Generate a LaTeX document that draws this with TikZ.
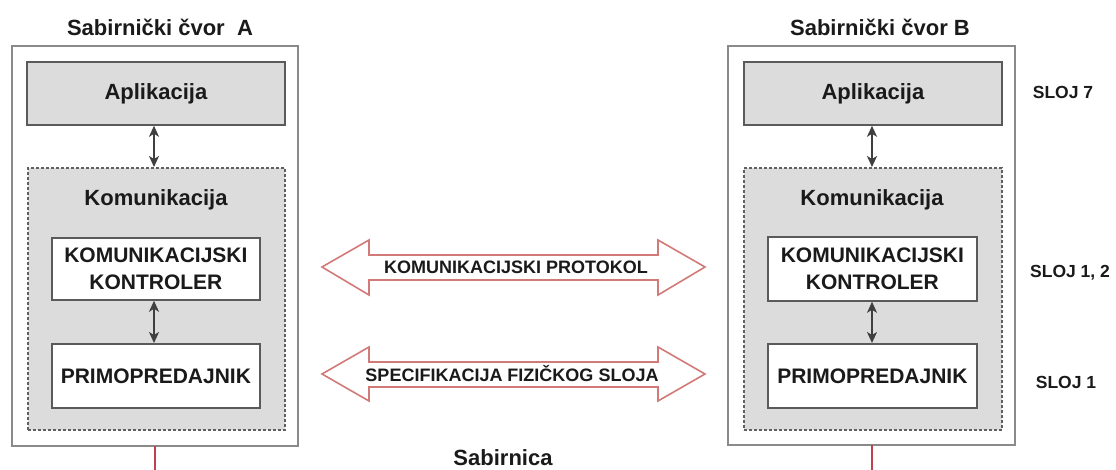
\documentclass[tikz,border=0pt]{standalone}
\usepackage{fontspec}
\setmainfont{Liberation Sans}
\usetikzlibrary{arrows.meta}
\definecolor{boxfill}{HTML}{DCDCDC}
\definecolor{boxline}{HTML}{5A5A5A}
\definecolor{outerline}{HTML}{8A8A8A}
\definecolor{dashline}{HTML}{606060}
\definecolor{arrline}{HTML}{D27A78}
\definecolor{busline}{HTML}{C0404F}
\definecolor{txt}{HTML}{1A1A1A}
\tikzset{
  outerbox/.style={draw=outerline, line width=1.5pt, fill=white},
  appbox/.style={draw=boxline, line width=1.8pt, fill=boxfill},
  combox/.style={draw=dashline, line width=1.6pt, dash pattern=on 3pt off 2pt, fill=boxfill},
  whitebox/.style={draw=boxline, line width=1.8pt, fill=white},
  lbl/.style={text=txt, font=\bfseries\fontsize{22}{26}\selectfont, inner sep=0pt},
  caps/.style={text=txt, font=\bfseries\fontsize{21}{27}\selectfont, inner sep=0pt, align=center},
  arrtxt/.style={text=txt, font=\bfseries\fontsize{18}{22}\selectfont, inner sep=0pt},
  layer/.style={text=txt, font=\bfseries\fontsize{17.5}{21}\selectfont, inner sep=0pt},
  link/.style={draw=boxline!70!black, line width=1.5pt, {Stealth[length=11pt,width=10pt,inset=3pt]}-{Stealth[length=11pt,width=10pt,inset=3pt]}},
  bigarrow/.style={draw=arrline, line width=1.6pt, fill=white, line join=miter},
  bus/.style={draw=busline, line width=1.6pt}
}
\begin{document}
\begin{tikzpicture}[x=1pt,y=-1pt]
\useasboundingbox (0,0) rectangle (1116,470);

% ---------- Node A ----------
\node[lbl] (titleA) at (160,27) {Sabirnički čvor\ \ A};
\path[outerbox] (12,46) rectangle (298,446);
\coordinate (outerAbot) at (155,446);
\node[appbox, minimum width=258pt, minimum height=63pt, inner sep=0pt, anchor=north west] (appA) at (26,61) {};
\node[lbl] at (appA.center) {Aplikacija};
\node[combox, minimum width=257pt, minimum height=262pt, inner sep=0pt, anchor=north west] (comA) at (27,167) {};
\node[lbl] (comAt) at (156,200) {Komunikacija};
\node[whitebox, minimum width=208pt, minimum height=62pt, inner sep=0pt, anchor=north west] (kkA) at (51,237) {};
\node[caps] at (kkA.center) {KOMUNIKACIJSKI\\KONTROLER};
\node[whitebox, minimum width=208pt, minimum height=64pt, inner sep=0pt, anchor=north west] (prA) at (51,343) {};
\node[caps] at (prA.center) {PRIMOPREDAJNIK};
\draw[link] (appA.south -| 154,0) -- (comA.north -| 154,0);
\draw[link] (kkA.south -| 154,0) -- (prA.north -| 154,0);

% ---------- Node B ----------
\node[lbl] (titleB) at (880,27) {Sabirnički čvor B};
\path[outerbox] (728,46) rectangle (1015,445);
\coordinate (outerBbot) at (872,445);
\node[appbox, minimum width=258pt, minimum height=63pt, inner sep=0pt, anchor=north west] (appB) at (743,61) {};
\node[lbl] at (appB.center) {Aplikacija};
\node[combox, minimum width=258pt, minimum height=262pt, inner sep=0pt, anchor=north west] (comB) at (743,167) {};
\node[lbl] (comBt) at (872,200) {Komunikacija};
\node[whitebox, minimum width=209pt, minimum height=64pt, inner sep=0pt, anchor=north west] (kkB) at (767,236) {};
\node[caps] at (kkB.center) {KOMUNIKACIJSKI\\KONTROLER};
\node[whitebox, minimum width=209pt, minimum height=64pt, inner sep=0pt, anchor=north west] (prB) at (767,343) {};
\node[caps] at (prB.center) {PRIMOPREDAJNIK};
\draw[link] (appB.south -| 872,0) -- (comB.north -| 872,0);
\draw[link] (kkB.south -| 872,0) -- (prB.north -| 872,0);

% ---------- Layer labels ----------
\node[layer] (s7) at (1063,92) {SLOJ 7};
\node[layer] (s12) at (1070,273) {SLOJ 1, 2};
\node[layer] (s1) at (1066,382) {SLOJ 1};

% ---------- Big double arrows ----------
\path[bigarrow] (322,267) -- (369,240) -- (369,255) -- (658,255) -- (658,240) -- (705,267)
  -- (658,295) -- (658,280) -- (369,280) -- (369,295) -- cycle;
\node[arrtxt] (proto) at (516,267) {KOMUNIKACIJSKI PROTOKOL};
\path[bigarrow] (322,374) -- (369,347) -- (369,362) -- (658,362) -- (658,347) -- (705,374)
  -- (658,401) -- (658,387) -- (369,387) -- (369,401) -- cycle;
\node[arrtxt] (phys) at (512,374) {SPECIFIKACIJA FIZIČKOG SLOJA};

% ---------- Bus ----------
\coordinate (busA) at (155,470);
\coordinate (busB) at (872,470);
\draw[bus] (outerAbot) -- (busA);
\draw[bus] (outerBbot) -- (busB);
\node[lbl] (bus) at (503,458) {Sabirnica};
\end{tikzpicture}
\end{document}
